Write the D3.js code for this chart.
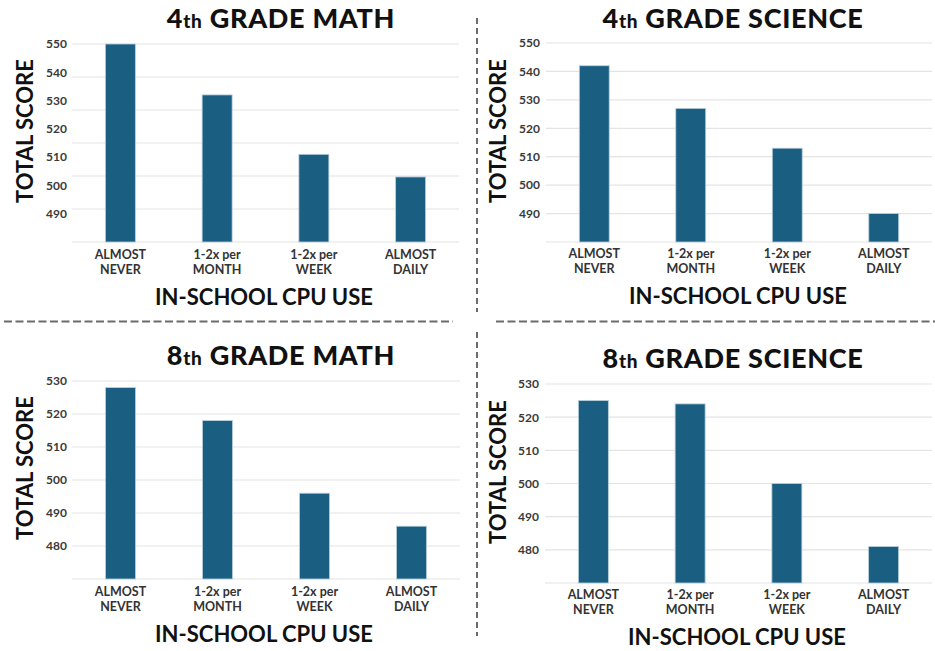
<!DOCTYPE html>
<html>
<head>
<meta charset="utf-8">
<script src="https://cdn.jsdelivr.net/npm/d3@7"></script>
<style>
  html, body { margin: 0; padding: 0; background: #ffffff; }
  svg { display: block; }
  text { font-family: "Lato", "Open Sans", sans-serif; }
</style>
</head>
<body>
<svg id="chart" width="935" height="651"></svg>
<script>
// ---- data ----
const categories = ["ALMOST NEVER", "1-2x per MONTH", "1-2x per WEEK", "ALMOST DAILY"];
const categoryLines = [["ALMOST", "NEVER"], ["1-2x per", "MONTH"], ["1-2x per", "WEEK"], ["ALMOST", "DAILY"]];
const math4Values = [550, 532, 511, 503];
const science4Values = [542, 527, 513, 490];
const math8Values = [528, 518, 496, 486];
const science8Values = [525, 524, 500, 481];
const ticks4th = [490, 500, 510, 520, 530, 540, 550];
const ticks8th = [480, 490, 500, 510, 520, 530];
const titleNumbers = ["4", "4", "8", "8"];
const titleRests = ["GRADE MATH", "GRADE SCIENCE", "GRADE MATH", "GRADE SCIENCE"];
const yTitle = "TOTAL SCORE";
const xTitle = "IN-SCHOOL CPU USE";

// ---- layout ----
const panels = [
  { values: math4Values, ticks: ticks4th, domain: [480, 550], x0: 72, x1: 459, yTop: 44, yBot: 242, gridCount: 7,
    tickRight: 67, titleX: 281, titleY: 28, yTitleX: 25, yTitleY: 131, xTitleX: 264, xTitleY: 305, catY: 259 },
  { values: science4Values, ticks: ticks4th, domain: [480, 550], x0: 546, x1: 932, yTop: 43, yBot: 242, gridCount: 0,
    tickRight: 540, titleX: 733, titleY: 28, yTitleX: 498, yTitleY: 131, xTitleX: 738, xTitleY: 304, catY: 258 },
  { values: math8Values, ticks: ticks8th, domain: [470, 530], x0: 72, x1: 460, yTop: 381, yBot: 579, gridCount: 0,
    tickRight: 67, titleX: 281, titleY: 365, yTitleX: 25, yTitleY: 468, xTitleX: 264, xTitleY: 642, catY: 596 },
  { values: science8Values, ticks: ticks8th, domain: [470, 530], x0: 545, x1: 932, yTop: 384, yBot: 583, gridCount: 0,
    tickRight: 539, titleX: 733, titleY: 368, yTitleX: 498, yTitleY: 472, xTitleX: 737, xTitleY: 645, catY: 599 }
];

const svg = d3.select("#chart");
const barFill = "#1a5f82";

// dashed separators
const sep = svg.append("g").attr("stroke", "#6b6b6b").attr("stroke-width", 2);
sep.append("line").attr("x1", 477).attr("x2", 477).attr("y1", 18).attr("y2", 312).attr("stroke-dasharray", "6,4");
sep.append("line").attr("x1", 477).attr("x2", 477).attr("y1", 332).attr("y2", 636).attr("stroke-dasharray", "6,4");
sep.append("line").attr("x1", 4).attr("x2", 453).attr("y1", 321.5).attr("y2", 321.5).attr("stroke-dasharray", "8,3.5");
sep.append("line").attr("x1", 496).attr("x2", 935).attr("y1", 321.5).attr("y2", 321.5).attr("stroke-dasharray", "8,3.5");

panels.forEach((p, i) => {
  const g = svg.append("g");
  const x = d3.scaleBand().domain(categories).range([p.x0, p.x1]).paddingInner(0.69).paddingOuter(0.345);
  const y = d3.scaleLinear().domain(p.domain).range([p.yBot, p.yTop]);

  // gridlines
  let gridYs;
  if (p.gridCount) {
    const gs = d3.scaleLinear().domain([0, p.gridCount - 1]).range([p.yBot, p.yTop]);
    gridYs = d3.range(p.gridCount).map(gs);
  } else {
    gridYs = [p.domain[0]].concat(p.ticks).map(y);
  }
  g.append("g").selectAll("line").data(gridYs).join("line")
    .attr("x1", p.x0).attr("x2", p.x1)
    .attr("y1", d => d).attr("y2", d => d)
    .attr("stroke", "#e4e4e4").attr("stroke-width", 1.2);

  // y tick labels via axis
  const axis = d3.axisLeft(y).tickValues(p.ticks).tickSize(0).tickPadding(0).tickFormat(d3.format("d"));
  const ag = g.append("g").attr("transform", `translate(${p.tickRight},0)`).call(axis);
  ag.select(".domain").remove();
  ag.selectAll("text").attr("font-family", "Lato, sans-serif").attr("font-size", 12).attr("font-weight", 700).attr("fill", "#3a3a3a");

  // bars
  g.append("g").selectAll("rect").data(p.values).join("rect")
    .attr("x", (d, k) => x(categories[k]))
    .attr("width", x.bandwidth())
    .attr("y", d => y(d))
    .attr("height", d => y(p.domain[0]) - y(d))
    .attr("fill", barFill)
    .attr("stroke", "#b9d0de").attr("stroke-width", 0.8);

  // category labels
  const cg = g.append("g");
  categories.forEach((c, k) => {
    const t = cg.append("text").attr("text-anchor", "middle").attr("font-size", 12.5).attr("font-weight", 700).attr("fill", "#333");
    categoryLines[k].forEach((ln, j) => {
      t.append("tspan").attr("x", x(c) + x.bandwidth() / 2).attr("y", p.catY + j * 14.5).text(ln);
    });
  });

  // title
  const tt = g.append("text").attr("x", p.titleX).attr("y", p.titleY).attr("text-anchor", "middle")
    .attr("font-size", 27).attr("font-weight", 900).attr("letter-spacing", 0.7).attr("fill", "#111");
  tt.append("tspan").text(titleNumbers[i]);
  tt.append("tspan").attr("font-size", 19).text("th");
  tt.append("tspan").text(" " + titleRests[i]);

  // axis titles
  g.append("text").attr("transform", `translate(${p.yTitleX},${p.yTitleY}) rotate(-90)`)
    .attr("text-anchor", "middle").attr("dy", "0.35em")
    .attr("font-size", 22).attr("font-weight", 700).attr("fill", "#111").text(yTitle);
  g.append("text").attr("x", p.xTitleX).attr("y", p.xTitleY).attr("text-anchor", "middle")
    .attr("font-size", 22).attr("font-weight", 700).attr("fill", "#111").text(xTitle);
});
</script>
</body>
</html>
